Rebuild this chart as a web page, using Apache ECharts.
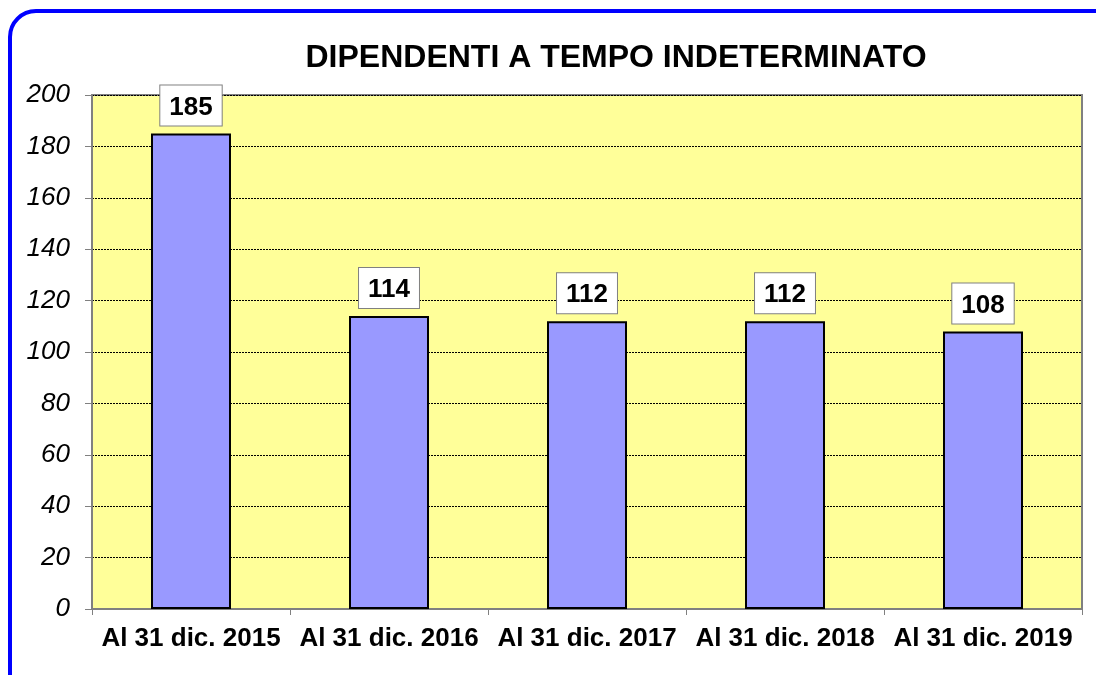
<!DOCTYPE html>
<html lang="it">
	<head>
		<meta charset="utf-8">
		<title>Dipendenti a tempo indeterminato</title>
		<script type="text/javascript" src="https://cdn.jsdelivr.net/npm/echarts@6/dist/echarts.min.js"></script>
		<style>
			html, body { margin: 0; padding: 0; background: #fff; }
			#container { width: 1096px; height: 675px; }
		</style>
	</head>
	<body>
		<div id="container"></div>
		<script type="text/javascript">
            // dati del grafico
            var titolo = 'DIPENDENTI A TEMPO INDETERMINATO';
            var categorie = ['Al 31 dic. 2015', 'Al 31 dic. 2016', 'Al 31 dic. 2017', 'Al 31 dic. 2018', 'Al 31 dic. 2019'];
            var dipendenti = [185, 114, 112, 112, 108];
            var yMin = 0, yMax = 200, yStep = 20;

            var dom = document.getElementById("container");
            var myChart = echarts.init(dom);
            var option = {
                animation: false,
                backgroundColor: '#fff',
                title: {
                    text: titolo,
                    left: 611,
                    textAlign: 'center',
                    top: 37,
                    textStyle: {
                        fontFamily: 'Liberation Sans',
                        fontSize: 32,
                        fontWeight: 'bold',
                        color: '#000'
                    }
                },
                graphic: [{
                    type: 'rect',
                    shape: { x: 10, y: 11, width: 1110, height: 690, r: 26 },
                    style: { fill: 'none', stroke: '#0000FF', lineWidth: 4 },
                    z: 100
                }],
                grid: {
                    left: 92,
                    right: 14,
                    top: 95,
                    bottom: 66,
                    show: true,
                    backgroundColor: '#FFFF99',
                    borderColor: '#808080',
                    borderWidth: 2
                },
                xAxis: {
                    type: 'category',
                    data: categorie,
                    axisLine: { lineStyle: { color: '#808080', width: 2 } },
                    axisTick: { show: true, length: 6, lineStyle: { color: '#808080' } },
                    axisLabel: {
                        interval: 0,
                        margin: 17,
                        fontFamily: 'Liberation Sans',
                        fontSize: 26,
                        fontWeight: 'bold',
                        color: '#000'
                    }
                },
                yAxis: {
                    type: 'value',
                    min: yMin,
                    max: yMax,
                    interval: yStep,
                    axisLine: { show: true, lineStyle: { color: '#808080', width: 2 } },
                    axisTick: { show: true, length: 7, lineStyle: { color: '#808080' } },
                    axisLabel: {
                        margin: 22,
                        fontFamily: 'Arial, Liberation Sans, sans-serif',
                        fontSize: 26,
                        fontStyle: 'italic',
                        fontWeight: 'normal',
                        color: '#000'
                    },
                    splitLine: { show: true, lineStyle: { color: '#000', width: 1, type: [2, 1] } }
                },
                series: [{
                    type: 'bar',
                    data: dipendenti,
                    barWidth: 80,
                    itemStyle: { color: '#9999FF', borderColor: '#000', borderWidth: 2 },
                    label: {
                        show: true,
                        position: 'top',
                        distance: 8,
                        fontFamily: 'Liberation Sans',
                        fontSize: 26,
                        fontWeight: 'bold',
                        color: '#000',
                        backgroundColor: '#fff',
                        borderColor: '#808080',
                        borderWidth: 1,
                        padding: [9, 9, 5, 9]
                    }
                }]
            };
            myChart.setOption(option, true);
		</script>
	</body>
</html>
